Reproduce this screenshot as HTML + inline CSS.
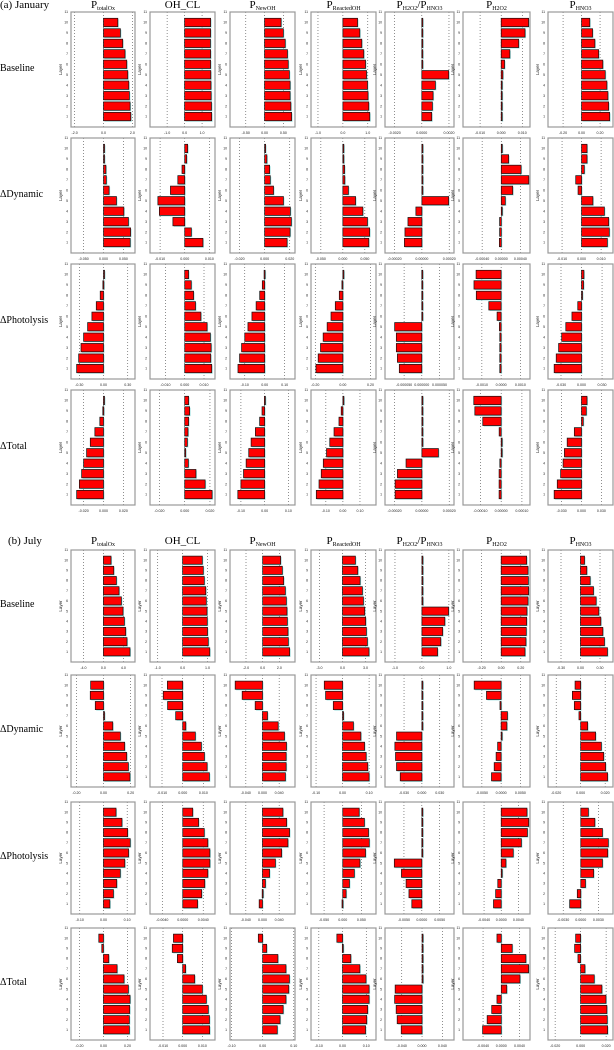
<!DOCTYPE html>
<html><head><meta charset="utf-8">
<style>
body{margin:0;background:#fff;}
#wrap{position:relative;width:614px;height:1050px;overflow:hidden;font-family:"Liberation Serif",serif;}
.t{position:absolute;white-space:nowrap;color:#000;}
.ct{font-size:11px;transform:translateX(-50%);line-height:11px;}
.ct sub{font-size:6px;vertical-align:-2px;}
.rl{font-size:10px;line-height:10px;}
svg{position:absolute;left:0;top:0;}
</style></head>
<body>
<div id="wrap">
<svg id="fig" width="614" height="1050"></svg>
</div>
<script>
// ---- data (layers 1..10) ----
const janBaseline = [
 [1.89,1.84,1.79,1.75,1.68,1.61,1.49,1.33,1.17,0.99],
 [1.55,1.54,1.52,1.51,1.50,1.49,1.49,1.48,1.49,1.49],
 [0.72,0.70,0.68,0.68,0.66,0.63,0.61,0.55,0.50,0.44],
 [1.08,1.04,1.01,0.99,0.95,0.91,0.84,0.76,0.68,0.59],
 [0.00073,0.00078,0.00083,0.0010,0.00198,0.00004,0.00004,0.00004,0.00004,0.00004],
 [0.0002,0.0002,0.0002,0.0002,0.0008,0.0016,0.0041,0.0083,0.0113,0.013],
 [0.304,0.293,0.285,0.274,0.256,0.23,0.185,0.144,0.119,0.089]];
const janDynamic = [
 [0.067,0.068,0.0625,0.051,0.0325,0.014,0.007,0.006,0.002,0.002],
 [0.0074,0.0027,-0.0048,-0.0103,-0.0109,-0.0058,-0.0028,-0.0011,0.0008,0.0012],
 [0.0179,0.0203,0.0213,0.0205,0.015,0.0071,0.0045,0.004,0.0018,0.0008],
 [0.059,0.061,0.056,0.0455,0.029,0.0127,0.0045,0.004,0.001,0.001],
 [-0.000128,-0.000124,-0.000102,-0.000044,0.000196,0.000003,0.000003,0.000003,0.000003,0.000003],
 [-0.00004,-0.000035,-0.000035,0.00001,0.000084,0.000239,0.000575,0.000414,0.000154,0.00001],
 [0.0132,0.0142,0.0139,0.0117,0.0058,-0.0018,-0.003,0.0014,0.0028,0.0028]];
const janPhotolysis = [
 [-0.333,-0.308,-0.279,-0.247,-0.197,-0.144,-0.09,-0.041,-0.008,0.004],
 [0.014,0.0135,0.0137,0.0133,0.0116,0.0084,0.0056,0.0046,0.0034,0.002],
 [-0.134,-0.126,-0.116,-0.1,-0.084,-0.064,-0.043,-0.025,-0.012,-0.003],
 [-0.195,-0.179,-0.162,-0.143,-0.114,-0.086,-0.055,-0.026,-0.007,0.002],
 [-0.0000636,-0.000069,-0.000072,-0.000072,-0.0000767,0.000001,0.000001,0.000001,0.000001,0.000001],
 [-0.00007,-0.00007,-0.00007,-0.00007,-0.00009,-0.00021,-0.00064,-0.00129,-0.00141,-0.0013],
 [-0.04,-0.037,-0.0335,-0.029,-0.023,-0.014,-0.0055,0.001,0.003,0.0035]];
const janTotal = [
 [-0.027,-0.0243,-0.022,-0.02,-0.017,-0.0133,-0.0087,-0.0037,-0.0007,0.001],
 [0.0217,0.0162,0.0089,0.0029,0.0003,0.0021,0.0026,0.0031,0.0039,0.0031],
 [-0.113,-0.1,-0.089,-0.078,-0.067,-0.057,-0.039,-0.021,-0.011,-0.001],
 [-0.156,-0.14,-0.127,-0.115,-0.096,-0.077,-0.052,-0.023,-0.01,0.002],
 [-0.000196,-0.000196,-0.000179,-0.000116,0.000121,0.000003,0.000003,0.000003,0.000003,0.000003],
 [-0.00001,-0.00001,-0.00001,-0.0000065,0,0.000003,-0.0000097,-0.0000887,-0.000127,-0.000132],
 [-0.0414,-0.0367,-0.0316,-0.0279,-0.0259,-0.0217,-0.0109,0.0026,0.0072,0.0083]];
const julBaseline = [
 [5.33,4.73,4.47,4.2,3.93,3.6,3.13,2.6,2.07,1.53],
 [1.09,1.03,1.0,0.99,0.98,0.95,0.93,0.87,0.83,0.79],
 [3.24,3.08,3.04,2.96,2.92,2.84,2.72,2.52,2.36,2.16],
 [3.45,3.24,3.11,3.02,2.89,2.72,2.59,2.29,1.99,1.68],
 [0.58,0.7,0.77,0.85,0.99,0.01,0.01,0.01,0.01,0.01],
 [0.243,0.253,0.256,0.26,0.263,0.274,0.28,0.277,0.274,0.26],
 [0.415,0.369,0.344,0.313,0.282,0.241,0.2,0.149,0.097,0.062]];
const julDynamic = [
 [0.195,0.183,0.171,0.156,0.124,0.068,0.001,-0.061,-0.098,-0.095],
 [0.0129,0.0118,0.0105,0.009,0.0061,0.0015,-0.0034,-0.0073,-0.0094,-0.0074],
 [0.055,0.0568,0.0568,0.0576,0.0528,0.0376,0.012,-0.0176,-0.0488,-0.0656],
 [0.1,0.095,0.089,0.083,0.069,0.041,0.001,-0.035,-0.064,-0.069],
 [-0.0364,-0.0426,-0.0443,-0.0454,-0.0426,0.0003,0.0003,0.0003,0.0003,0.0003],
 [-0.0025,-0.0018,-0.0013,-0.0009,0.0002,0.0015,0.00165,-0.0003,-0.0038,-0.007],
 [0.022,0.0204,0.0188,0.0169,0.0122,0.0057,-0.0014,-0.0052,-0.0068,-0.0046]];
const julPhotolysis = [
 [0.027,0.042,0.056,0.071,0.09,0.106,0.113,0.102,0.078,0.053],
 [0.0029,0.0037,0.0043,0.0049,0.0053,0.0053,0.0049,0.0042,0.0031,0.00195],
 [-0.008,-0.0008,0.007,0.017,0.031,0.046,0.061,0.065,0.058,0.049],
 [-0.002,0.009,0.018,0.031,0.046,0.061,0.071,0.069,0.058,0.044],
 [-0.0028,-0.0036,-0.0044,-0.0057,-0.0077,0.00005,0.00005,0.00005,0.00005,0.00005],
 [-0.0018,-0.0013,-0.0008,0.00003,0.0011,0.0028,0.0047,0.0061,0.0064,0.006],
 [-0.0019,-0.0006,0.0008,0.0022,0.0037,0.0046,0.0047,0.0037,0.0024,0.0013]];
const julTotal = [
 [0.215,0.215,0.218,0.221,0.207,0.171,0.113,0.044,-0.014,-0.039],
 [0.0137,0.0136,0.013,0.012,0.01,0.0061,0.0015,-0.0027,-0.0053,-0.0047],
 [0.047,0.056,0.066,0.075,0.084,0.086,0.075,0.049,0.013,-0.014],
 [0.097,0.102,0.106,0.112,0.112,0.099,0.073,0.035,-0.001,-0.024],
 [-0.041,-0.049,-0.051,-0.054,-0.053,0.0004,0.0004,0.0004,0.0004,0.0004],
 [-0.0041,-0.0031,-0.0021,-0.00095,0.0012,0.0041,0.006,0.0054,0.0024,-0.00095],
 [0.0212,0.0209,0.0206,0.0199,0.0167,0.0107,0.0034,-0.0021,-0.0047,-0.0039]];

// x-axis domains [min,max]
const janBaselineDom = [[-2.25,2.18],[-1.98,1.74],[-0.92,0.81],[-1.28,1.33],[-0.00271,0.00237],[-0.0181,0.01365],[-0.363,0.34]];
const janDynamicDom = [[-0.0817,0.079],[-0.0141,0.0123],[-0.0276,0.0242],[-0.0724,0.0754],[-0.00027,0.000235],[-0.0008,0.0006],[-0.0172,0.0161]];
const janPhotolysisDom = [[-0.403,0.39],[-0.018,0.0157],[-0.174,0.152],[-0.231,0.24],[-0.000104,0.000091],[-0.00198,0.0015],[-0.049,0.046]];
const janTotalDom = [[-0.0327,0.0317],[-0.0275,0.024],[-0.146,0.128],[-0.187,0.194],[-0.00027,0.000235],[-0.000184,0.000139],[-0.0507,0.0476]];
const julBaselineDom = [[-6.5,6.33],[-1.31,1.3],[-3.92,3.88],[-4.1,4.36],[-1.37,1.19],[-0.39,0.294],[-0.5,0.5]];
const julDynamicDom = [[-0.24,0.232],[-0.0158,0.0156],[-0.078,0.078],[-0.119,0.126],[-0.062,0.054],[-0.0099,0.0075],[-0.0267,0.0264]];
const julPhotolysisDom = [[-0.137,0.133],[-0.0064,0.0063],[-0.078,0.078],[-0.085,0.089],[-0.0103,0.009],[-0.0089,0.0067],[-0.0056,0.0055]];
const julTotalDom = [[-0.27,0.262],[-0.0166,0.0164],[-0.105,0.104],[-0.133,0.141],[-0.073,0.063],[-0.0084,0.0063],[-0.0256,0.0254]];

// tick labels (negative, zero, positive)
const janBaselineTicks = [["-2.0","0.0","2.0"],["-1.0","0.0","1.0"],["-0.50","0.00","0.50"],["-1.0","0.0","1.0"],["-0.0020","0.0000","0.0020"],["-0.010","0.000","0.010"],["-0.20","0.00","0.20"]];
const janDynamicTicks = [["-0.050","0.000","0.050"],["-0.010","0.000","0.010"],["-0.020","0.000","0.020"],["-0.050","0.000","0.050"],["-0.00020","0.00000","0.00020"],["-0.00040","0.00000","0.00040"],["-0.010","0.000","0.010"]];
const janPhotolysisTicks = [["-0.30","0.00","0.30"],["-0.010","0.000","0.010"],["-0.10","0.00","0.10"],["-0.20","0.00","0.20"],["-0.000050","0.000000","0.000050"],["-0.0010","0.0000","0.0010"],["-0.030","0.000","0.030"]];
const janTotalTicks = [["-0.020","0.000","0.020"],["-0.020","0.000","0.020"],["-0.10","0.00","0.10"],["-0.10","0.00","0.10"],["-0.00020","0.00000","0.00020"],["-0.00010","0.00000","0.00010"],["-0.030","0.000","0.030"]];
const julBaselineTicks = [["-4.0","0.0","4.0"],["-1.0","0.0","1.0"],["-2.0","0.0","2.0"],["-3.0","0.0","3.0"],["-1.0","0.0","1.0"],["-0.20","0.00","0.20"],["-0.30","0.00","0.30"]];
const julDynamicTicks = [["-0.20","0.00","0.20"],["-0.010","0.000","0.010"],["-0.040","0.000","0.040"],["-0.10","0.00","0.10"],["-0.030","0.000","0.030"],["-0.0050","0.0000","0.0050"],["-0.020","0.000","0.020"]];
const julPhotolysisTicks = [["-0.10","0.00","0.10"],["-0.0040","0.0000","0.0040"],["-0.040","0.000","0.040"],["-0.050","0.000","0.050"],["-0.0050","0.0000","0.0050"],["-0.0040","0.0000","0.0040"],["-0.0030","0.0000","0.0030"]];
const julTotalTicks = [["-0.20","0.00","0.20"],["-0.010","0.000","0.010"],["-0.10","0.00","0.10"],["-0.10","0.00","0.10"],["-0.040","0.000","0.040"],["-0.0040","0.0000","0.0040"],["-0.020","0.000","0.020"]];

const layers = [1,2,3,4,5,6,7,8,9,10];
const yTicks = [1,2,3,4,5,6,7,8,9,10,11];
const colTitles = ['P<sub>totalOx</sub>','OH_CL','P<sub>NewOH</sub>','P<sub>ReactedOH</sub>','P<sub>H2O2</sub>/P<sub>HNO3</sub>','P<sub>H2O2</sub>','P<sub>HNO3</sub>'];
const colNames = ['ptotalox','oh-cl','pnewoh','preactedoh','ph2o2-phno3','ph2o2','phno3'];
const rowLabels = ['Baseline','\u0394Dynamic','\u0394Photolysis','\u0394Total'];

// ---- layout ----
const colBox = [[71,135],[150,215],[230,295],[311,376],[385,454],[463,530],[548,613]];
const sections = [
 {key:'jan', label:'(a) January', labelY:0, titleY:0, tops:[12,138,264,390], h:115,
  data:[janBaseline,janDynamic,janPhotolysis,janTotal], dom:[janBaselineDom,janDynamicDom,janPhotolysisDom,janTotalDom],
  ticks:[janBaselineTicks,janDynamicTicks,janPhotolysisTicks,janTotalTicks]},
 {key:'jul', label:'(b) July', labelY:536, titleY:536, tops:[550,675,802,928], h:112,
  data:[julBaseline,julDynamic,julPhotolysis,julTotal], dom:[julBaselineDom,julDynamicDom,julPhotolysisDom,julTotalDom],
  ticks:[julBaselineTicks,julDynamicTicks,julPhotolysisTicks,julTotalTicks]}
];

const NS='http://www.w3.org/2000/svg';
const svg=document.getElementById('fig');
const wrap=document.getElementById('wrap');
function mk(tag,attrs,parent){const e=document.createElementNS(NS,tag);for(const k in attrs)e.setAttribute(k,attrs[k]);(parent||svg).appendChild(e);return e;}

sections.forEach(sec=>{
  const lab=document.createElement('div');
  lab.className='t ct';lab.style.transform='none';
  lab.style.left=(sec.key==='jan'?0:8)+'px';lab.style.top=sec.labelY+'px';
  lab.textContent=sec.label;
  
  
  wrap.appendChild(lab);
  colBox.forEach((cb,ci)=>{
    const d=document.createElement('div');
    d.className='t ct';d.style.left=((cb[0]+cb[1])/2)+'px';d.style.top=sec.titleY+'px';
    d.innerHTML=colTitles[ci];
    
    
    wrap.appendChild(d);
  });
  sec.tops.forEach((top,ri)=>{
    const h=sec.h;
    const rl=document.createElement('div');
    rl.className='t rl';rl.style.left='0px';rl.style.top=(top+h/2-6)+'px';
    rl.textContent=rowLabels[ri];
    
    
    wrap.appendChild(rl);
    const ys=v=>top+h*(1-v/11);
    colBox.forEach((cb,ci)=>{
      const g=mk('g',{});
      
      
      const [x0,x1]=cb, dm=sec.dom[ri][ci];
      const xs=v=>x0+(v-dm[0])/(dm[1]-dm[0])*(x1-x0);
      const tl=sec.ticks[ri][ci];
      // dotted gridlines + tick labels
      tl.forEach(s=>{
        const v=parseFloat(s), x=xs(v);
        const ln=mk('line',{x1:x,x2:x,y1:top,y2:top+h,stroke:'#444','stroke-width':0.6,'stroke-dasharray':'1,2'},g);
        
        
        const t=mk('text',{x:x,y:top+h+7,'font-size':3.6,'text-anchor':'middle','font-family':'Liberation Sans, sans-serif',fill:'#222'},g);
        t.textContent=s;
        
        
      });
      // y ticks
      yTicks.forEach(l=>{
        const t=mk('text',{x:x0-3,y:ys(l)+1.2,'font-size':3.4,'text-anchor':'end','font-family':'Liberation Sans, sans-serif',fill:'#222'},g);
        t.textContent=l;
        
        
      });
      const yl=mk('text',{x:0,y:0,'font-size':4.5,'text-anchor':'middle','font-family':'Liberation Sans, sans-serif',fill:'#222',transform:`translate(${x0-9},${top+h/2}) rotate(-90)`},g);
      yl.textContent='Layer';
      
      
      // bars
      const vals=sec.data[ri][ci];
      layers.forEach((L,i)=>{
        const v=vals[i];
        const xa=xs(0), xb=xs(v);
        let left=Math.min(xa,xb), w=Math.abs(xb-xa);
        if(w<1){w=1;}
        const bh=h/11*0.8, yc=ys(L);
        const sh=mk('rect',{x:left+1,y:yc-bh/2+1,width:w,height:bh,fill:'#a8e4e4'},g);
        
        
        const r=mk('rect',{x:left,y:yc-bh/2,width:w,height:bh,fill:'#ff0000',stroke:'#111','stroke-width':0.7},g);
        
        
      });
      const box=mk('rect',{x:x0,y:top,width:x1-x0,height:h,fill:'none',stroke:'#999','stroke-width':1.2},g);
      
      
    });
  });
});
</script>
</body></html>
